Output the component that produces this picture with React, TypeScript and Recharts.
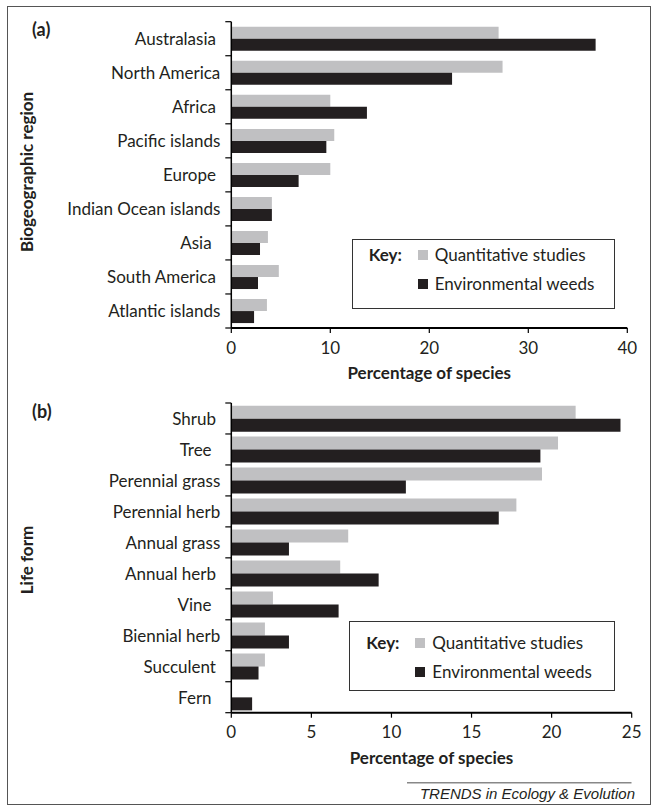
import React from 'react';
import { BarChart, Bar, XAxis, YAxis, Legend } from 'recharts';

const FONT = 'Lato, "Open Sans", sans-serif';
const FS = 17;
const TEXT = '#231f20';

// ---- Panel (a): biogeographic region ----
const regionCategories = [
  'Australasia ',
  'North America',
  'Africa ',
  'Pacific islands',
  'Europe ',
  'Indian Ocean islands',
  'Asia  ',
  'South America ',
  'Atlantic islands',
];
const regionQuantitative = [27.0, 27.4, 10.0, 10.4, 10.0, 4.1, 3.7, 4.8, 3.6];
const regionWeeds = [36.8, 22.3, 13.7, 9.6, 6.8, 4.1, 2.9, 2.7, 2.3];
const regionTicks = [0, 10, 20, 30, 40];

// ---- Panel (b): life form ----
const lifeFormCategories = [
  'Shrub ',
  'Tree  ',
  'Perennial grass',
  'Perennial herb',
  'Annual grass',
  'Annual herb ',
  'Vine  ',
  'Biennial herb',
  'Succulent ',
  'Fern  ',
];
const lifeFormQuantitative = [21.5, 20.4, 19.4, 17.8, 7.3, 6.8, 2.6, 2.1, 2.1, 0];
const lifeFormWeeds = [24.3, 19.3, 10.9, 16.7, 3.6, 9.2, 6.7, 3.6, 1.7, 1.3];
const lifeFormTicks = [0, 5, 10, 15, 20, 25];

const seriesNames = ['Quantitative studies', 'Environmental weeds'];
const seriesColors = ['#c0c0c2', '#231f20'];

const buildRows = (cats: string[], q: number[], w: number[]) =>
  cats.map((name, i) => ({ name, quantitative: q[i], weeds: w[i] }));

function CatTick(props: any) {
  const { x, y, payload, index, half, count } = props;
  const h = typeof payload?.offset === 'number' && payload.offset > 0 ? payload.offset : half;
  return (
    <g>
      <line x1={x - 6} x2={x} y1={y - h} y2={y - h} stroke="#000" strokeWidth={1.2} />
      {index === count - 1 && (
        <line x1={x - 6} x2={x} y1={y + h} y2={y + h} stroke="#000" strokeWidth={1.2} />
      )}
      <text
        x={x - 11}
        y={y}
        textAnchor="end"
        dominantBaseline="central"
        style={{ whiteSpace: 'pre' }}
        fontFamily={FONT}
        fontSize={FS}
        fill={TEXT}
      >
        {payload.value}
      </text>
    </g>
  );
}

function NumTick(props: any) {
  const { x, y, payload } = props;
  return (
    <g>
      <line x1={x} x2={x} y1={y} y2={y + 5} stroke="#000" strokeWidth={1.2} />
      <text
        x={x}
        y={y + 19}
        textAnchor="middle"
        dominantBaseline="central"
        fontFamily={FONT}
        fontSize={FS}
        fill={TEXT}
      >
        {payload.value}
      </text>
    </g>
  );
}

function makeKey(row1: number, row2: number, w: number, h: number) {
  return (props: any) => {
    const payload = [...(props.payload || [])].sort(
      (a: any, b: any) => seriesNames.indexOf(a.value) - seriesNames.indexOf(b.value)
    );
    const rows = [row1, row2];
    return (
      <div
        style={{
          position: 'relative',
          width: w,
          height: h,
          border: '1.2px solid #333',
          boxSizing: 'border-box',
          background: '#fff',
          fontFamily: FONT,
          fontSize: FS,
          color: TEXT,
        }}
      >
        <span
          style={{
            position: 'absolute',
            left: 16,
            top: row1 - 11,
            lineHeight: '20px',
            fontWeight: 700,
          }}
        >
          Key:
        </span>
        {payload.map((entry: any, i: number) => (
          <React.Fragment key={entry.value}>
            <span
              style={{
                position: 'absolute',
                left: 65,
                top: rows[i] - 6,
                width: 10,
                height: 10,
                background: entry.color,
              }}
            />
            <span
              style={{
                position: 'absolute',
                left: 82,
                top: rows[i] - 11,
                lineHeight: '20px',
                whiteSpace: 'nowrap',
              }}
            >
              {entry.value}
            </span>
          </React.Fragment>
        ))}
      </div>
    );
  };
}

interface PanelProps {
  top: number;
  rows: any[];
  ticks: number[];
  max: number;
  margin: { top: number; right: number; bottom: number; left: number };
  gap: string;
  legend: { left: number; top: number; width: number; height: number; row1: number; row2: number };
}

const CHART_W = 658;
const CHART_H = 400;
const Y_AXIS_W = 231.3;
const X_AXIS_H = 30;

function Panel({ top, rows, ticks, max, margin, gap, legend }: PanelProps) {
  const plotH = CHART_H - margin.top - margin.bottom - X_AXIS_H;
  const half = plotH / rows.length / 2;
  const KeyContent = makeKey(legend.row1, legend.row2, legend.width, legend.height);
  return (
    <div style={{ position: 'absolute', left: 0, top }}>
      <BarChart
        width={CHART_W}
        height={CHART_H}
        data={rows}
        layout="vertical"
        margin={margin}
        barCategoryGap={gap}
        barGap={0}
      >
        <XAxis
          type="number"
          domain={[0, max]}
          ticks={ticks}
          interval={0}
          height={X_AXIS_H}
          tickLine={false}
          tickSize={0}
          tickMargin={0}
          axisLine={{ stroke: '#000', strokeWidth: 2 }}
          tick={(p: any) => <NumTick {...p} />}
        />
        <XAxis
          xAxisId="top"
          orientation="top"
          type="number"
          domain={[0, max]}
          height={0}
          tick={false}
          tickLine={false}
          axisLine={{ stroke: '#555', strokeWidth: 1 }}
        />
        <YAxis
          type="category"
          dataKey="name"
          width={Y_AXIS_W}
          interval={0}
          tickLine={false}
          tickSize={0}
          tickMargin={0}
          axisLine={{ stroke: '#000', strokeWidth: 1.5 }}
          tick={(p: any) => <CatTick {...p} half={half} count={rows.length} />}
        />
        <YAxis
          yAxisId="right"
          orientation="right"
          type="category"
          dataKey="name"
          width={0}
          tick={false}
          tickLine={false}
          axisLine={{ stroke: '#555', strokeWidth: 1 }}
        />
        <Legend
          layout="vertical"
          align="center"
          verticalAlign="middle"
          itemSorter={null as any}
          content={KeyContent}
          wrapperStyle={{
            left: legend.left,
            top: legend.top,
            width: legend.width,
            height: legend.height,
            margin: 0,
            padding: 0,
          }}
        />
        <Bar dataKey="quantitative" name={seriesNames[0]} fill={seriesColors[0]} isAnimationActive={false} />
        <Bar dataKey="weeds" name={seriesNames[1]} fill={seriesColors[1]} isAnimationActive={false} />
      </BarChart>
    </div>
  );
}

export default function App() {
  const rowsA = buildRows(regionCategories, regionQuantitative, regionWeeds);
  const rowsB = buildRows(lifeFormCategories, lifeFormQuantitative, lifeFormWeeds);
  const title = { fontFamily: FONT, fontSize: FS, fontWeight: 700, fill: TEXT } as const;
  return (
    <div style={{ position: 'absolute', left: 0, top: 0, width: 658, height: 811, background: '#fff' }}>
      <svg width={658} height={811} style={{ position: 'absolute', left: 0, top: 0 }}>
        <rect x={7.5} y={6.5} width={643} height={798} fill="none" stroke="#555" strokeWidth={1} />
        <text x={32} y={29} dominantBaseline="central" {...title} fontSize={18}>(a)</text>
        <text x={32} y={411} dominantBaseline="central" {...title} fontSize={18}>(b)</text>
        <text
          x={26}
          y={172}
          textAnchor="middle"
          dominantBaseline="central"
          transform="rotate(-90 26 172)"
          {...title}
        >
          Biogeographic region
        </text>
        <text
          x={26}
          y={560}
          textAnchor="middle"
          dominantBaseline="central"
          transform="rotate(-90 26 560)"
          {...title}
        >
          Life form
        </text>
        <text x={429.3} y={372.7} textAnchor="middle" dominantBaseline="central" {...title}>
          Percentage of species
        </text>
        <text x={431.5} y={757} textAnchor="middle" dominantBaseline="central" {...title}>
          Percentage of species
        </text>
        <line x1={407} x2={631.5} y1={782.7} y2={782.7} stroke="#888" strokeWidth={1.5} />
        <text
          x={635}
          y={793}
          textAnchor="end"
          dominantBaseline="central"
          fontFamily='"Liberation Sans", Arial, sans-serif'
          fontStyle="italic"
          fontSize={15}
          fill={TEXT}
        >
          TRENDS in Ecology &amp; Evolution
        </text>
      </svg>
      <Panel
        top={0}
        rows={rowsA}
        ticks={regionTicks}
        max={40}
        margin={{ top: 21.7, right: 30.7, bottom: 42, left: 0 }}
        gap="15%"
        legend={{ left: 351.7, top: 239.3, width: 263.6, height: 70, row1: 16, row2: 44.7 }}
      />
      <Panel
        top={380}
        rows={rowsB}
        ticks={lifeFormTicks}
        max={25}
        margin={{ top: 23, right: 26.3, bottom: 37.3, left: 0 }}
        gap="8.5%"
        legend={{ left: 349.3, top: 241, width: 266, height: 69.7, row1: 22, row2: 51 }}
      />
    </div>
  );
}
